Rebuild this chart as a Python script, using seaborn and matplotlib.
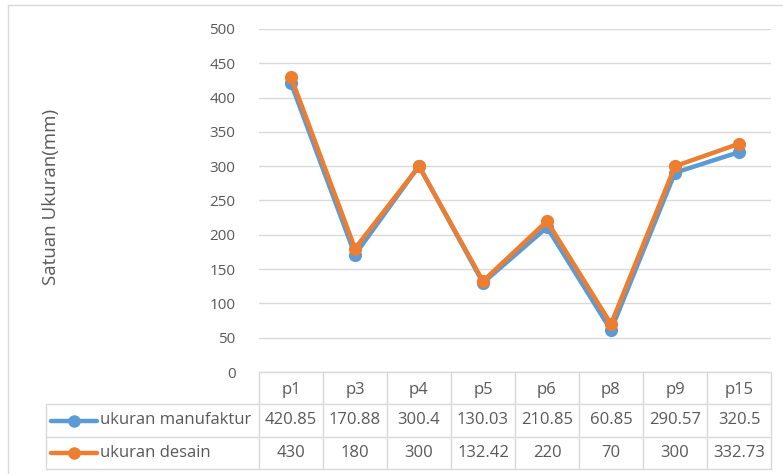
import numpy as np
import pandas as pd
import matplotlib
matplotlib.use('Agg')
import matplotlib.pyplot as plt
import seaborn as sns
from matplotlib.lines import Line2D
from matplotlib.patches import Rectangle

points = ['p1', 'p3', 'p4', 'p5', 'p6', 'p8', 'p9', 'p15']
ukuran_manufaktur = [420.85, 170.88, 300.4, 130.03, 210.85, 60.85, 290.57, 320.5]
ukuran_desain = [430, 180, 300, 132.42, 220, 70, 300, 332.73]
series_names = ['ukuran manufaktur', 'ukuran desain']
series_colors = ['#5b9bd5', '#ed7d31']

sns.set_theme(style='white')
plt.rcParams['font.family'] = ['Open Sans', 'DejaVu Sans']
txt_color = '#595959'
grid_color = '#d9d9d9'
tab_fs = 12

df = pd.DataFrame({
    'pos': list(range(len(points))) * 2,
    'value': ukuran_manufaktur + ukuran_desain,
    'series': [series_names[0]] * len(points) + [series_names[1]] * len(points),
})

W, H = 783, 474
fig = plt.figure(figsize=(W / 100, H / 100), dpi=100)

# outer frame (runs off the right and bottom edges)
fig.patches.append(Rectangle((8 / W, -0.1), 1, 1.1 - 5 / H, transform=fig.transFigure,
                             fill=False, edgecolor=grid_color, lw=1))

left, right = 259, 771
top, zero = 29, 372
ax = fig.add_axes([left / W, (H - zero) / H, (right - left) / W, (zero - top) / H])
sns.lineplot(data=df, x='pos', y='value', hue='series', palette=series_colors,
             marker='o', markersize=9.5, markeredgewidth=0, linewidth=3.2,
             legend=False, ax=ax)
ax.set_xlim(-0.5, len(points) - 0.5)
ax.set_ylim(0, 500)
ax.set_yticks(np.arange(0, 501, 50))
ax.set_xticks([])
ax.yaxis.grid(True, color=grid_color, lw=1)
ax.set_axisbelow(True)
for s in ax.spines.values():
    s.set_visible(False)
ax.tick_params(axis='y', length=0, pad=17, labelsize=11, labelcolor=txt_color)
ax.set_xlabel('')
ax.set_ylabel('Satuan Ukuran(mm)', fontsize=13.5, color=txt_color)
ax.yaxis.set_label_coords((60 - left) / (right - left), 0.51)

# data table below the plot
tab_bottom = 469
tax = fig.add_axes([left / W, (H - tab_bottom) / H, (right - left) / W, (tab_bottom - zero) / H])
n = len(points)
tax.set_xlim(-0.5, n - 0.5)
tax.set_ylim(3, 0)
tax.axis('off')
colw = (right - left) / n
label_left = -0.5 - (left - 46) / colw

kw = dict(color=grid_color, lw=1, clip_on=False)
tax.plot([-0.5, n - 0.5], [0, 0], **kw)
for r in (1, 2, 3):
    tax.plot([label_left, n - 0.5], [r, r], **kw)
for k in range(n + 1):
    tax.plot([k - 0.5, k - 0.5], [0, 3], **kw)
tax.plot([label_left, label_left], [1, 3], **kw)

for i, p in enumerate(points):
    tax.text(i, 0.55, p, ha='center', va='center', fontsize=tab_fs, color=txt_color)

rows = [ukuran_manufaktur, ukuran_desain]
for r, (name, vals, c) in enumerate(zip(series_names, rows, series_colors)):
    y = r + 1.5
    for i, v in enumerate(vals):
        tax.text(i, y, f'{v:g}', ha='center', va='center', fontsize=tab_fs, color=txt_color)
    x0 = label_left + 5 / colw
    x1 = x0 + 46 / colw
    tax.add_line(Line2D([x0, x1], [y, y], color=c, lw=3.2, clip_on=False))
    tax.plot([(x0 + x1) / 2], [y], 'o', color=c, markersize=9, markeredgewidth=0, clip_on=False)
    tax.text(x1 + 3 / colw, y, name, ha='left', va='center', fontsize=tab_fs, color=txt_color)

fig.savefig('out.png', dpi=100)
